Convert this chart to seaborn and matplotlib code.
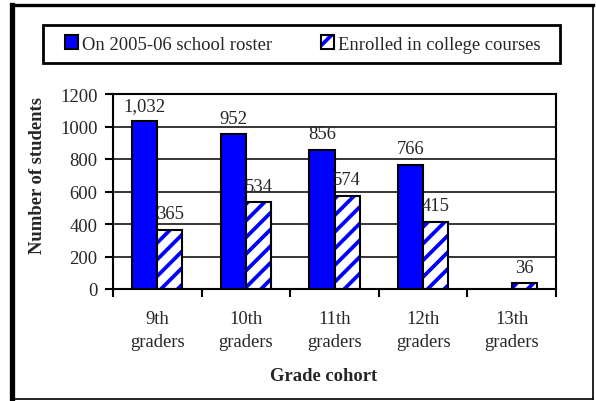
import numpy as np
import pandas as pd
import matplotlib
matplotlib.use("Agg")
import matplotlib.pyplot as plt
import seaborn as sns
from matplotlib.patches import Patch, Rectangle
from matplotlib.lines import Line2D
from matplotlib.ticker import FixedLocator, NullFormatter, FixedFormatter

# ---- data ----
cohorts = ["9th\ngraders", "10th\ngraders", "11th\ngraders", "12th\ngraders", "13th\ngraders"]
series_names = ["On 2005-06 school roster", "Enrolled in college courses"]
roster = [1032, 952, 856, 766, np.nan]
enrolled = [365, 534, 574, 415, 36]
y_ticks = [0, 200, 400, 600, 800, 1000, 1200]

FS = 13.4
sns.set_theme(style="white")
plt.rcParams["font.family"] = ["Liberation Serif", "DejaVu Serif"]
plt.rcParams["font.size"] = FS
plt.rcParams["hatch.linewidth"] = 2.7

BLUE = "#0000FF"

df = pd.DataFrame({
    "cohort": cohorts * 2,
    "series": [series_names[0]] * len(cohorts) + [series_names[1]] * len(cohorts),
    "value": roster + enrolled,
})

fig = plt.figure(figsize=(5.96, 4.02), dpi=100)
ax = fig.add_axes([113 / 596, 1 - 290 / 402, 443 / 596, 195 / 402])

sns.barplot(data=df, x="cohort", y="value", hue="series", order=cohorts,
            hue_order=series_names, palette=[BLUE, "white"], saturation=1,
            width=0.565, edgecolor="black", linewidth=1.5, errorbar=None,
            legend=False, ax=ax)

# hatched bars: blue hatch (edge colour drives hatch colour) + black outline on top
for p in ax.containers[1]:
    p.set_hatch("//")
    p.set_edgecolor(BLUE)
    p.set_linewidth(0)
    ax.add_patch(Rectangle(p.get_xy(), p.get_width(), p.get_height(), fill=False,
                           edgecolor="black", linewidth=1.5,
                           zorder=p.get_zorder() + 0.1))

ax.bar_label(ax.containers[0], fmt="{:,.0f}", padding=5.5, fontsize=FS)
ax.bar_label(ax.containers[1], fmt="{:,.0f}", padding=5.5, fontsize=FS)

ax.set_ylim(0, 1200)
ax.set_xlim(-0.5, len(cohorts) - 0.5)
ax.set_yticks(y_ticks)
ax.yaxis.grid(True, color="black", linewidth=1.1)
ax.set_axisbelow(True)
for s in ax.spines.values():
    s.set_visible(True)
    s.set_color("black")
    s.set_linewidth(1.5)

# category boundaries as major ticks, labels at centres
ax.xaxis.set_major_locator(FixedLocator(np.arange(len(cohorts) + 1) - 0.5))
ax.xaxis.set_major_formatter(NullFormatter())
ax.xaxis.set_minor_locator(FixedLocator(np.arange(len(cohorts))))
ax.xaxis.set_minor_formatter(FixedFormatter(cohorts))
ax.tick_params(axis="x", which="major", direction="out", length=6, width=1.5,
               color="black", bottom=True)
ax.tick_params(axis="x", which="minor", length=0, pad=15, labelsize=FS,
               bottom=True)
ax.tick_params(axis="y", direction="out", length=6, width=1.5, color="black",
               left=True, pad=5, labelsize=FS)
for t in ax.xaxis.get_minorticklabels():
    t.set_linespacing(1.5)

ax.set_xlabel("Grade cohort", fontweight="bold", fontsize=FS)
ax.set_ylabel("Number of students", fontweight="bold", fontsize=FS)
ax.xaxis.set_label_coords((324 - 113) / 443, (290 - 377) / 195)
ax.xaxis.label.set_va("center")
ax.yaxis.set_label_coords((37.5 - 113) / 443, (290 - 175) / 195)
ax.yaxis.label.set_va("center")

# legend (content) + its box
h_blue = Patch(facecolor=BLUE, edgecolor="black", linewidth=1.5)
h_hatch = (Patch(facecolor="white", edgecolor=BLUE, hatch="//", linewidth=0),
           Patch(fill=False, edgecolor="black", linewidth=1.5))
leg = fig.legend([h_blue, h_hatch], series_names, loc="center",
                 bbox_to_anchor=(303 / 596, 1 - 45 / 402),
                 ncol=2, borderaxespad=0, frameon=False, fontsize=FS,
                 handlelength=0.7, handleheight=0.7, handletextpad=0.2,
                 borderpad=0.0, columnspacing=2.63)
fig.add_artist(Rectangle((43 / 596, 1 - 64 / 402), 517 / 596, 38 / 402,
                         transform=fig.transFigure, fill=False,
                         edgecolor="black", linewidth=2))

# outer frame
def fline(xs, ys, lw):
    fig.add_artist(Line2D([x / 596 for x in xs], [1 - y / 402 for y in ys],
                          transform=fig.transFigure, color="black", linewidth=lw,
                          solid_capstyle="projecting"))

fline([11.5, 11.5], [5.5, 400], 3.8)
fline([11.5, 593], [5.5, 5.5], 2.4)
fline([593, 593], [5.5, 400], 1.2)
fline([11.5, 593], [400, 400], 1.2)

fig.savefig("out.png", dpi=100)
